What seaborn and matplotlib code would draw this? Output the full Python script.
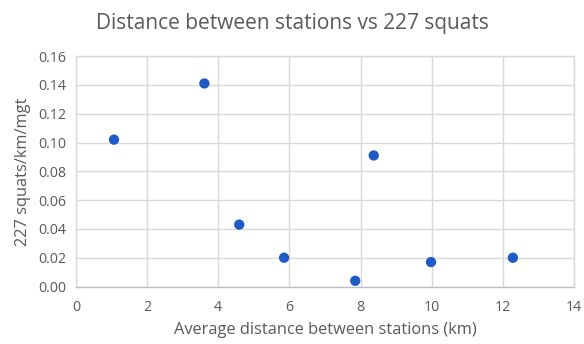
import matplotlib
matplotlib.use("Agg")
import matplotlib.pyplot as plt
import seaborn as sns
import pandas as pd

distance_km = [1.07, 3.61, 4.59, 5.85, 7.85, 8.37, 9.98, 12.28]
squats_per_km_mgt = [0.102, 0.141, 0.043, 0.020, 0.004, 0.091, 0.017, 0.020]
x_ticks = [0, 2, 4, 6, 8, 10, 12, 14]
y_ticks = [0.00, 0.02, 0.04, 0.06, 0.08, 0.10, 0.12, 0.14, 0.16]

df = pd.DataFrame({"x": distance_km, "y": squats_per_km_mgt})

sns.set_theme(style="whitegrid")
plt.rcParams['font.family'] = ['Open Sans', 'DejaVu Sans']

text_color = "#595959"
grid_color = "#d9d9d9"

fig = plt.figure(figsize=(5.84, 3.44), dpi=100)
ax = fig.add_axes([0.130, 0.167, 0.853, 0.670])

sns.scatterplot(data=df, x="x", y="y", ax=ax, color="#1E5BC6", s=55,
                edgecolor="none", zorder=3)

ax.set_xlim(0, 14)
ax.set_ylim(0, 0.16)
ax.set_xticks(x_ticks)
ax.set_yticks(y_ticks)
ax.set_xticklabels([str(t) for t in x_ticks])
ax.set_yticklabels([f"{t:.2f}" for t in y_ticks])
ax.grid(True, color=grid_color, linewidth=1.0)
for s in ax.spines.values():
    s.set_visible(True)
    s.set_color(grid_color)
    s.set_linewidth(1.0)
ax.spines['bottom'].set_color("#bfbfbf")
ax.tick_params(axis='x', colors=text_color, labelsize=10.3, length=0, pad=10)
ax.tick_params(axis='y', colors=text_color, labelsize=10.3, length=0, pad=7)
ax.set_xlabel("Average distance between stations (km)", color=text_color, fontsize=11.8, labelpad=5)
ax.set_ylabel("227 squats/km/mgt", color=text_color, fontsize=11.8, labelpad=5)
fig.suptitle("Distance between stations vs 227 squats", color=text_color,
             fontsize=15, x=0.5, y=0.963)

fig.savefig("out.png", dpi=100)
